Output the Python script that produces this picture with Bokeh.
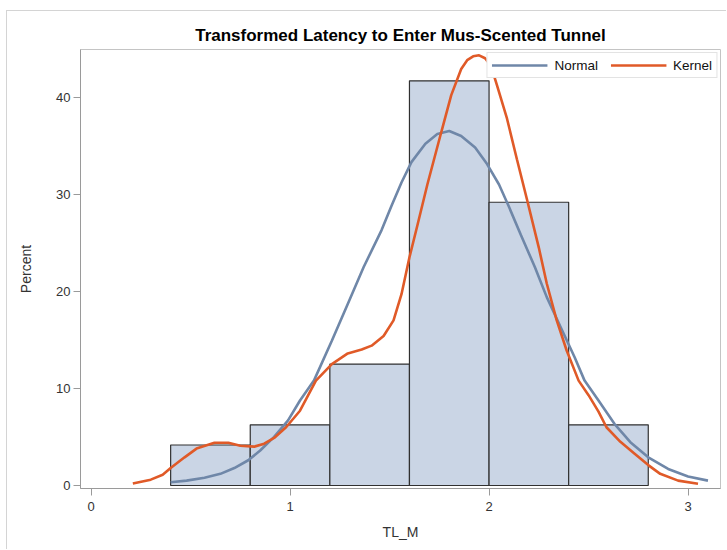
from bokeh.plotting import figure
from bokeh.models import Range1d, Legend, LegendItem, FixedTicker, ColumnDataSource
from bokeh.embed import file_html
from bokeh.resources import INLINE

# ---- data ----
bin_left = [0.4, 0.8, 1.2, 1.6, 2.0, 2.4]
bin_right = [0.8, 1.2, 1.6, 2.0, 2.4, 2.8]
percent = [4.17, 6.25, 12.5, 41.67, 29.17, 6.25]

normal_x = [0.40, 0.48, 0.57, 0.65, 0.72, 0.79, 0.85, 0.92, 0.99, 1.05, 1.12, 1.21,
            1.29, 1.37, 1.46, 1.51, 1.56, 1.61, 1.68, 1.74, 1.80, 1.86, 1.93, 1.99,
            2.05, 2.10, 2.16, 2.23, 2.29, 2.36, 2.43, 2.48, 2.55, 2.63, 2.71, 2.80,
            2.90, 3.00, 3.10]
normal_y = [0.34, 0.5, 0.8, 1.2, 1.8, 2.6, 3.6, 5.0, 6.7, 8.75, 10.8, 14.9,
            18.7, 22.5, 26.3, 28.8, 31.2, 33.3, 35.2, 36.2, 36.5, 36.0, 34.8, 33.1,
            31.0, 28.7, 25.8, 22.5, 19.4, 16.3, 13.2, 10.8, 8.75, 6.35, 4.46, 2.9,
            1.7, 0.93, 0.5]

kernel_x = [0.21, 0.30, 0.36, 0.40, 0.47, 0.53, 0.62, 0.69, 0.75, 0.82, 0.87, 0.92,
            0.98, 1.05, 1.13, 1.21, 1.29, 1.36, 1.41, 1.47, 1.52, 1.56, 1.60, 1.64,
            1.69, 1.76, 1.81, 1.86, 1.89, 1.92, 1.95, 1.98, 2.01, 2.04, 2.09, 2.14,
            2.19, 2.25, 2.29, 2.34, 2.39, 2.45, 2.50, 2.55, 2.59, 2.66, 2.73, 2.80,
            2.86, 2.95, 3.05]
kernel_y = [0.2, 0.6, 1.1, 1.8, 2.9, 3.8, 4.4, 4.4, 4.1, 4.0, 4.3, 4.9,
            6.0, 7.7, 10.8, 12.5, 13.6, 14.0, 14.4, 15.4, 17.0, 19.7, 23.5, 26.8,
            31.0, 36.4, 40.2, 42.9, 43.8, 44.2, 44.3, 44.0, 43.2, 41.2, 37.8, 33.6,
            29.5, 24.5, 20.8, 17.0, 13.9, 10.8, 9.3, 7.6, 6.0, 4.5, 3.3, 2.1,
            1.2, 0.5, 0.17]

x_ticks = [0, 1, 2, 3]
y_ticks = [0, 10, 20, 30, 40]

FONT = "Liberation Sans"

p = figure(width=720, height=539, output_backend="svg", toolbar_location=None,
           x_range=Range1d(-0.053, 3.163), y_range=Range1d(-0.31, 44.9),
           title="Transformed Latency to Enter Mus-Scented Tunnel",
           min_border_left=73, min_border_right=7, min_border_top=38, min_border_bottom=62)

p.styles = {"margin-left": "6px", "margin-top": "10px",
            "border-left": "1px solid #d4d4d4", "border-top": "1px solid #d4d4d4"}

p.title.align = "center"
p.title.text_font = FONT
p.title.text_font_size = "17px"
p.title.text_font_style = "bold"
p.title.text_color = "#000000"
p.title.standoff = 10

p.xgrid.visible = False
p.ygrid.visible = False
p.outline_line_color = "#c4c4c4"
p.outline_line_width = 1

src = ColumnDataSource(dict(left=bin_left, right=bin_right, top=percent))
p.quad(left="left", right="right", bottom=0, top="top", source=src,
       fill_color="#cad5e5", line_color="#303030", line_width=1.2)

rn = p.line(normal_x, normal_y, line_color="#6f87a8", line_width=2.6)
rk = p.line(kernel_x, kernel_y, line_color="#e05a28", line_width=2.6)

for ax in (p.xaxis[0], p.yaxis[0]):
    ax.axis_line_color = "#9a9a9a"
    ax.major_tick_line_color = "#9a9a9a"
    ax.minor_tick_line_color = None
    ax.major_tick_in = 0
    ax.major_tick_out = 7
    ax.major_label_text_font = FONT
    ax.major_label_text_font_size = "13px"
    ax.major_label_text_color = "#333333"
    ax.axis_label_text_font = FONT
    ax.axis_label_text_font_size = "14px"
    ax.axis_label_text_font_style = "normal"
    ax.axis_label_text_color = "#333333"

p.xaxis[0].ticker = FixedTicker(ticks=x_ticks)
p.yaxis[0].ticker = FixedTicker(ticks=y_ticks)
p.xaxis[0].axis_label = "TL_M"
p.yaxis[0].axis_label = "Percent"
p.xaxis[0].major_label_standoff = 6
p.xaxis[0].axis_label_standoff = 10
p.yaxis[0].major_label_standoff = 3
p.yaxis[0].axis_label_standoff = 19

legend = Legend(items=[LegendItem(label="Normal", renderers=[rn]),
                       LegendItem(label="Kernel", renderers=[rk])],
                orientation="horizontal", location="top_right")
legend.margin = 3
legend.padding = 4
legend.spacing = 12
legend.glyph_width = 56
legend.glyph_height = 16
legend.label_standoff = 7
legend.label_text_font = FONT
legend.label_text_font_size = "13.5px"
legend.label_text_color = "#111111"
legend.border_line_color = "#c8c8c8"
legend.background_fill_color = "white"
legend.background_fill_alpha = 1.0
p.add_layout(legend)

open("out.html", "w").write(file_html(p, INLINE))
